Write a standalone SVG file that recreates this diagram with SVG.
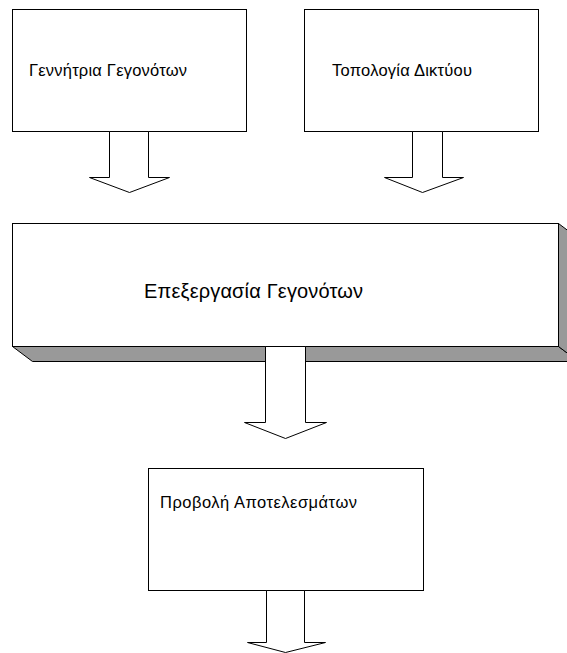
<svg xmlns="http://www.w3.org/2000/svg" width="567" height="653" viewBox="0 0 567 653">
  <style>
    .box { fill: #ffffff; stroke: #000000; stroke-width: 1; }
    .side { fill: #999999; stroke: #000000; stroke-width: 1; stroke-linejoin: miter; }
    .arrow { fill: #ffffff; stroke: #000000; stroke-width: 1; stroke-linejoin: miter; }
    .lbl { font-family: "Liberation Sans", Arial, sans-serif; fill: #000000; }
    .small { font-size: 16.5px; }
    .big { font-size: 20px; }
  </style>
  <rect width="567" height="653" fill="#ffffff"/>

  <g id="node-generator">
    <rect class="box" x="12.5" y="9.5" width="234" height="122"/>
    <text class="lbl small" x="29" y="76" textLength="158" lengthAdjust="spacing">Γεννήτρια Γεγονότων</text>
  </g>

  <g id="node-topology">
    <rect class="box" x="304.5" y="9.5" width="234" height="122"/>
    <text class="lbl small" x="332" y="76" textLength="140" lengthAdjust="spacing">Τοπολογία Δικτύου</text>
  </g>

  <g id="node-processing">
    <!-- extruded faces -->
    <polygon class="side" points="12.5,346.5 558.5,346.5 578.5,361.5 32.5,361.5"/>
    <polygon class="side" points="558.5,223.5 578.5,238.5 578.5,361.5 558.5,346.5"/>
    <rect class="box" x="12.5" y="223.5" width="546" height="123"/>
    <text class="lbl big" x="144" y="298" textLength="219" lengthAdjust="spacing">Επεξεργασία Γεγονότων</text>
  </g>

  <g id="node-results">
    <rect class="box" x="148.5" y="468.5" width="275" height="122"/>
    <text class="lbl small" x="160" y="508" textLength="197" lengthAdjust="spacing">Προβολή Αποτελεσμάτων</text>
  </g>

  <g id="connectors">
    <polygon class="arrow" points="109.5,131.5 148.5,131.5 148.5,177.5 169.5,177.5 129.5,192.5 89.5,177.5 109.5,177.5"/>
    <polygon class="arrow" points="412.5,131.5 442.5,131.5 442.5,177.5 463.5,177.5 422.5,192.5 384.5,177.5 412.5,177.5"/>
    <polygon class="arrow" points="265.5,346.5 305.5,346.5 305.5,422.5 326.5,422.5 285.5,438.5 244.5,422.5 265.5,422.5"/>
    <polygon class="arrow" points="266.5,590.5 304.5,590.5 304.5,642.5 325.5,642.5 285.5,652.5 247.5,642.5 266.5,642.5"/>
  </g>
</svg>
